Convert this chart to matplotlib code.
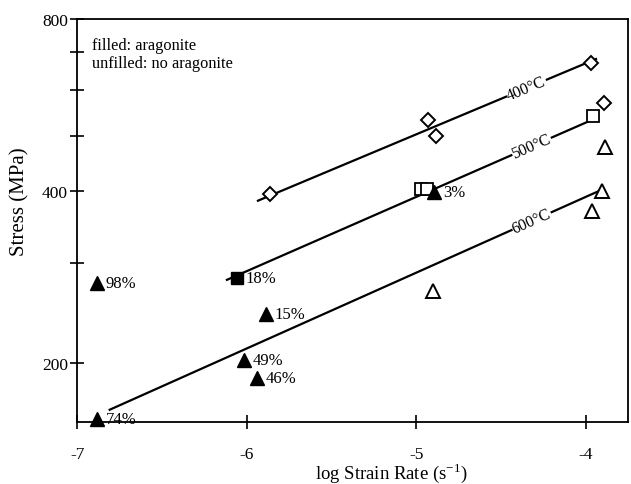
import numpy as np
import matplotlib
matplotlib.use("Agg")
import matplotlib.pyplot as plt
from matplotlib.ticker import FixedLocator, NullFormatter

plt.rcParams['font.family'] = ['Liberation Serif', 'DejaVu Serif']

# 400 C: unfilled diamonds
x400 = [-5.864, -4.932, -4.885, -3.97, -3.894]
y400 = [395, 533, 500, 670, 571]
# 500 C: squares
x500_open = [-4.97, -4.94, -3.96]
y500_open = [404, 404, 542]
x500_fill = [-6.059]
y500_fill = [282]
lab500_fill = ["18%"]
# 600 C: triangles
x600_open = [-4.903, -3.888, -3.906, -3.965]
y600_open = [268, 478, 401, 370]
x600_fill = [-4.897, -6.885, -5.888, -6.017, -5.94, -6.885]
y600_fill = [398, 276, 244, 203, 189, 160]
lab600_fill = ["3%", "98%", "15%", "49%", "46%", "74%"]

# fit lines (endpoints)
fit400_x = [-5.935, -3.94]; fit400_y = [385, 681]
fit500_x = [-6.118, -3.976]; fit500_y = [280, 531]
fit600_x = [-6.81, -3.917]; fit600_y = [166, 401]
line_labels = ["400°C", "500°C", "600°C"]
label_x = [-4.35, -4.32, -4.32]

fig = plt.figure(figsize=(6.31, 4.85), dpi=100)
ax = fig.add_axes([0.1228, 0.1278, 0.8727, 0.831])
ax.set_yscale('log')
ax.set_xlim(-7, -3.75)
ax.set_ylim(158, 800)

ax.yaxis.set_major_locator(FixedLocator([200, 400, 800]))
ax.yaxis.set_minor_locator(FixedLocator([300, 500, 600, 700]))
ax.yaxis.set_minor_formatter(NullFormatter())
ax.set_yticklabels(['200', '400', '800'])
ax.set_xticks([-7, -6, -5, -4])
ax.set_xticklabels(['-7', '-6', '-5', '-4'])
ax.tick_params(which='both', direction='inout', labelsize=12.5, width=1.2)
ax.tick_params(which='major', length=10)
ax.tick_params(which='minor', length=10)
ax.tick_params(axis='x', pad=12)
ax.tick_params(axis='y', pad=2)
for s in ax.spines.values():
    s.set_linewidth(1.3)

lw = 1.6
for fx, fy in [(fit400_x, fit400_y), (fit500_x, fit500_y), (fit600_x, fit600_y)]:
    ax.plot(fx, fy, color='black', lw=lw, zorder=2)

ax.plot(x400, y400, 'D', ms=7.5, mfc='white', mec='black', mew=1.4, zorder=3, clip_on=False)
ax.plot(x500_open, y500_open, 's', ms=8.5, mfc='white', mec='black', mew=1.3, zorder=3, clip_on=False)
ax.plot(x500_fill, y500_fill, 's', ms=8.5, mfc='black', mec='black', zorder=3, clip_on=False)
ax.plot(x600_open, y600_open, '^', ms=9.5, mfc='white', mec='black', mew=1.4, zorder=3, clip_on=False)
ax.plot(x600_fill, y600_fill, '^', ms=9.5, mfc='black', mec='black', zorder=4, clip_on=False)

for x, y, t in zip(x500_fill + x600_fill, y500_fill + y600_fill, lab500_fill + lab600_fill):
    ax.annotate(t, (x, y), xytext=(6.5, 0), textcoords='offset points', va='center', ha='left',
                fontsize=12, zorder=5)

fig.canvas.draw()
for (fx, fy), lab, lx in zip([(fit400_x, fit400_y), (fit500_x, fit500_y), (fit600_x, fit600_y)],
                             line_labels, label_x):
    p0 = ax.transData.transform((fx[0], fy[0]))
    p1 = ax.transData.transform((fx[1], fy[1]))
    ang = np.degrees(np.arctan2(p1[1] - p0[1], p1[0] - p0[0]))
    ly = np.exp(np.interp(lx, fx, np.log(fy)))
    ax.text(lx, ly, lab, rotation=ang, rotation_mode='anchor', ha='center', va='center',
            fontsize=11.5, zorder=3,
            bbox=dict(facecolor='white', edgecolor='none', pad=0.3))

ax.text(0.027, 0.955, "filled: aragonite\nunfilled: no aragonite", transform=ax.transAxes,
        va='top', ha='left', fontsize=11.8, linespacing=1.15)

ax.set_xlabel("log Strain Rate (s$^{\\mathregular{-1}}$)", fontsize=13.5, va='center')
ax.xaxis.set_label_coords(0.57, -0.125)
ax.set_ylabel("Stress (MPa)", fontsize=15)
ax.yaxis.set_label_coords(-0.088, 0.548)

fig.savefig("out.png", dpi=100)
